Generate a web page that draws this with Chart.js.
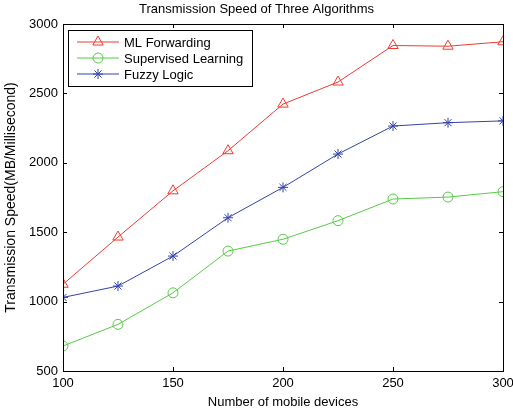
<!DOCTYPE html>
<html>
<head>
<meta charset="utf-8">
<script src="https://cdn.jsdelivr.net/npm/chart.js@4/dist/chart.umd.min.js"></script>
<style>
  html, body { margin: 0; padding: 0; background: #fff; }
  #wrap { width: 513px; height: 410px; }
</style>
</head>
<body>
<div id="wrap"><canvas id="speedChart"></canvas></div>
<script>
// data
var devices = [100, 125, 150, 175, 200, 225, 250, 275, 300];
var mlForwarding = [1125, 1465, 1798, 2087, 2423, 2582, 2845, 2840, 2872];
var supervisedLearning = [680, 836, 1063, 1364, 1449, 1583, 1739, 1753, 1792];
var fuzzyLogic = [1030, 1112, 1328, 1604, 1823, 2063, 2265, 2289, 2302];
var xTicks = [100, 150, 200, 250, 300];
var yTicks = [500, 1000, 1500, 2000, 2500, 3000];

var FONT = 'Liberation Sans, Arial, sans-serif';

function points(ys) {
  return devices.map(function (x, i) { return { x: x, y: ys[i] }; });
}

// MATLAB style box, inward ticks and legend inside the axes
var matlabBox = {
  id: 'matlabBox',
  afterDraw: function (chart) {
    var ctx = chart.ctx;
    var a = chart.chartArea;
    var xs = chart.scales.x, ys = chart.scales.y;
    ctx.save();
    ctx.strokeStyle = '#000';
    ctx.lineWidth = 1;
    ctx.beginPath();
    xTicks.forEach(function (v) {
      var px = Math.round(xs.getPixelForValue(v)) + 0.5;
      ctx.moveTo(px, a.bottom); ctx.lineTo(px, a.bottom - 4);
      ctx.moveTo(px, a.top); ctx.lineTo(px, a.top + 4);
    });
    yTicks.forEach(function (v) {
      var py = Math.round(ys.getPixelForValue(v)) + 0.5;
      ctx.moveTo(a.left, py); ctx.lineTo(a.left + 4, py);
      ctx.moveTo(a.right, py); ctx.lineTo(a.right - 4, py);
    });
    ctx.stroke();
    ctx.strokeRect(Math.round(a.left) + 0.5, Math.round(a.top) + 0.5,
      Math.round(a.right - a.left), Math.round(a.bottom - a.top));

    // legend
    var lx = a.left + 5, ly = a.top + 6, lw = 184, lh = 56;
    ctx.fillStyle = '#fff';
    ctx.fillRect(lx, ly, lw, lh);
    ctx.strokeRect(lx + 0.5, ly + 0.5, lw, lh);
    ctx.font = '13px ' + FONT;
    ctx.textBaseline = 'middle';
    chart.data.datasets.forEach(function (ds, i) {
      var yy = ly + 12 + i * 16;
      ctx.strokeStyle = ds.borderColor;
      ctx.lineWidth = 1;
      ctx.beginPath();
      ctx.moveTo(lx + 9, yy); ctx.lineTo(lx + 51, yy);
      ctx.stroke();
      ctx.fillStyle = 'rgba(0,0,0,0)';
      Chart.helpers.drawPoint(ctx, {
        pointStyle: ds.pointStyle,
        radius: ds.pointRadius,
        borderWidth: 1
      }, lx + 30, yy);
      ctx.fillStyle = '#000';
      ctx.fillText(ds.label, lx + 56, yy + 1);
    });
    ctx.restore();
  }
};

var config = {
  type: 'line',
  data: {
    datasets: [{
      label: 'ML Forwarding',
      data: points(mlForwarding),
      borderColor: '#ee3b33',
      pointStyle: 'triangle',
      pointRadius: 6
    }, {
      label: 'Supervised Learning',
      data: points(supervisedLearning),
      borderColor: '#55cc44',
      pointStyle: 'circle',
      pointRadius: 5
    }, {
      label: 'Fuzzy Logic',
      data: points(fuzzyLogic),
      borderColor: '#3344aa',
      pointStyle: 'star',
      pointRadius: 5
    }]
  },
  options: {
    responsive: true,
    maintainAspectRatio: false,
    animation: false,
    devicePixelRatio: 1,
    elements: {
      line: { borderWidth: 1, tension: 0, fill: false },
      point: { backgroundColor: 'rgba(0,0,0,0)', borderWidth: 1, hoverRadius: 5 }
    },
    layout: { padding: { left: 0, right: 0, top: 0, bottom: 0 } },
    plugins: {
      legend: { display: false },
      tooltip: { enabled: false },
      title: {
        display: true,
        text: 'Transmission Speed of Three Algorithms',
        color: '#000',
        font: { family: FONT, size: 13, weight: 'normal' },
        padding: { top: 2, bottom: 6.4 }
      }
    },
    scales: {
      x: {
        type: 'linear',
        min: 100, max: 300,
        afterBuildTicks: function (s) { s.ticks = xTicks.map(function (v) { return { value: v }; }); },
        afterFit: function (s) { s.height = 39; s.paddingRight = 10; s.paddingLeft = 0; },
        grid: { display: false, drawTicks: false },
        border: { display: false },
        ticks: {
          color: '#000', padding: 5, maxRotation: 0, font: { family: FONT, size: 13 },
          callback: function (v) { return String(v); }
        },
        title: {
          display: true, text: 'Number of mobile devices', color: '#000',
          font: { family: FONT, size: 13 }, padding: { top: 0, bottom: 0 }
        }
      },
      y: {
        min: 500, max: 3000,
        afterBuildTicks: function (s) { s.ticks = yTicks.map(function (v) { return { value: v }; }); },
        afterFit: function (s) { s.width = 63; },
        grid: { display: false, drawTicks: false },
        border: { display: false },
        ticks: {
          color: '#000', padding: 5, font: { family: FONT, size: 13 },
          callback: function (v) { return String(v); }
        },
        title: {
          display: true, text: 'Transmission Speed(MB/Millisecond)', color: '#000',
          font: { family: FONT, size: 14 }, padding: { top: 3, bottom: 2 }
        }
      }
    }
  },
  plugins: [matlabBox]
};

new Chart(document.getElementById('speedChart').getContext('2d'), config);
</script>
</body>
</html>
